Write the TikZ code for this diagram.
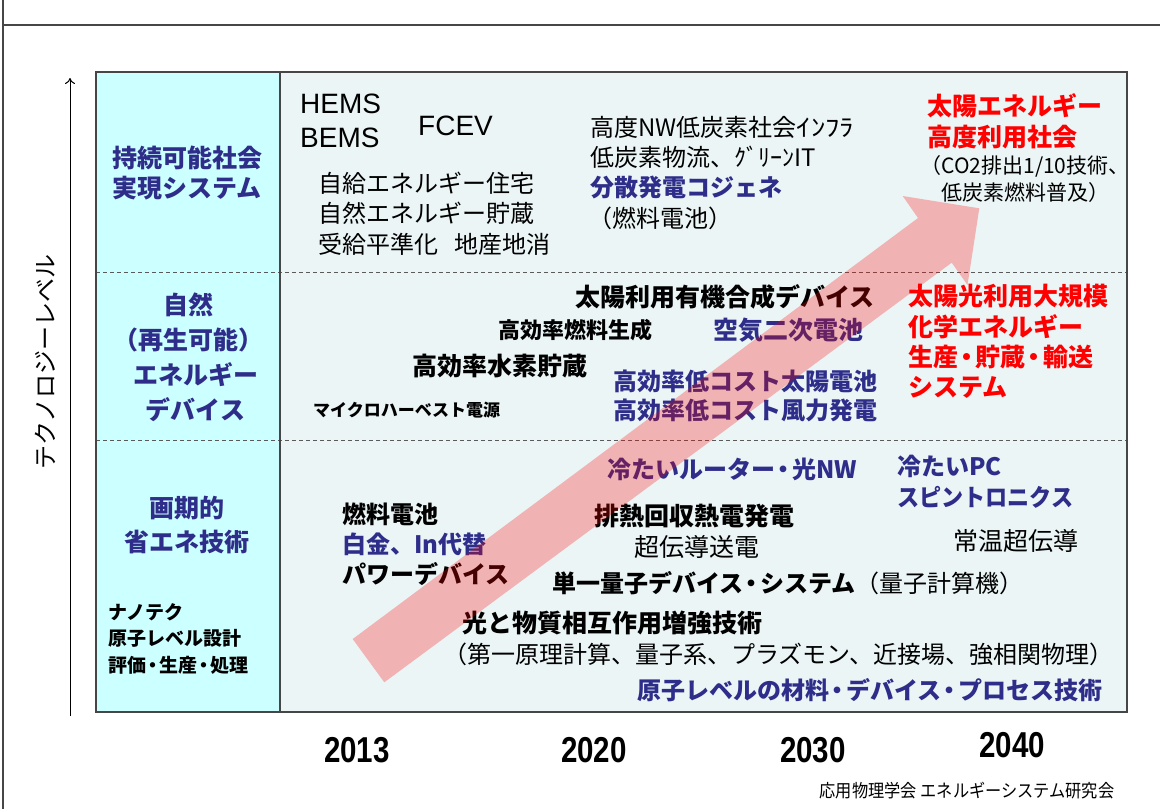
\documentclass[tikz,border=0pt]{standalone}
\usepackage{fontspec}
\usetikzlibrary{arrows.meta}
\setmainfont{Noto Sans CJK JP}
\newfontfamily\arialf{Liberation Sans}
\definecolor{jblue}{RGB}{46,46,138}
\definecolor{jred}{RGB}{255,0,0}
\definecolor{cyanbg}{RGB}{204,255,255}
\definecolor{mainbg}{RGB}{235,245,246}
\definecolor{framec}{RGB}{70,70,70}
\definecolor{dashc}{RGB}{90,90,90}
\newcommand{\nd}{\kern-0.15em・\kern-0.15em}
\begin{document}
\begin{tikzpicture}[x=1pt,y=-1pt,
  jt/.style={inner sep=0pt, anchor=west, align=left},
  jc/.style={inner sep=0pt, anchor=center, align=center},
  reg/.style 2 args={font=\fontsize{#1}{#2}\selectfont},
  bld/.style 2 args={font=\fontsize{#1}{#2}\selectfont\bfseries},
  lat/.style 2 args={font=\fontsize{#1}{#2}\selectfont\arialf},
  yr/.style={inner sep=0pt, anchor=center, font=\fontsize{36}{40}\selectfont\arialf\bfseries},
  blue/.style={text=jblue},
  red/.style={text=jred},
  framel/.style={draw=framec, line width=1.3pt},
  sep/.style={draw=dashc, line width=0.9pt, dash pattern=on 4pt off 3pt},
  bigarrow/.style={fill=red, fill opacity=0.27, draw=none}
]
\useasboundingbox (0,0) rectangle (1160,809);
\fill[white] (0,0) rectangle (1160,809);
% outer frame
\draw[framel] (3,0) -- (3,809);
\draw[framel] (3,25) -- (1160,25);
% table
\fill[mainbg] (280,72) rectangle (1127,712);
\fill[cyanbg] (96,72) rectangle (280,712);
\draw[sep] (96,272) -- (1127,272);
\draw[sep] (96,440) -- (1127,440);
\draw[framel] (96,72) rectangle (1127,712);
\draw[framel] (280,72) -- (280,712);
% axis
\coordinate (axb) at (70,716);
\coordinate (axt) at (70,78);
\draw[line width=1pt, -{To[length=6pt,width=10pt]}] (axb) -- (axt);
\node[jc, reg={24}{28}, rotate=90] (axlabel) at (45,362) {テクノロジーレベル};
% left column
\node[jc, bld={25}{30}, blue] (c1) at (187,173) {持続可能社会\\実現システム};
\node[jc, bld={25}{35}, blue] (c2) at (188,357.5) {自然\\（再生可能）\\\hspace{0.6em}エネルギー\\\hspace{0.6em}デバイス};
\node[jc, bld={25}{34}, blue] (c3) at (187,525) {画期的\\省エネ技術};
\node[jt, bld={19}{26.5}] (c4) at (108,638.5) {ナノテク\\原子レベル設計\\評価\nd 生産\nd 処理};
% top row
\node[jt, lat={28}{34}] (hems) at (300,121) {HEMS\\BEMS};
\node[jt, lat={28}{34}] (fcev) at (418,126) {FCEV};
\node[jt, reg={24}{30.5}] (jikyu) at (318,213.5) {自給エネルギー住宅\\自然エネルギー貯蔵\\受給平準化\hspace{0.7em}地産地消};
\node[jt, reg={24}{30}] (koudo) at (590,142) {高度NW低炭素社会\scalebox{1.2}[1]{ｲﾝﾌﾗ}\\低炭素物流、ｸﾞﾘｰﾝIT};
\node[jt, bld={24}{30}, blue] (bunsan) at (590,187) {分散発電コジェネ};
\node[jt, reg={24}{30}] (nenryo) at (588,218) {（燃料電池）};
\node[jt, bld={25}{31}, red] (goal1) at (927,121.5) {太陽エネルギー\\高度利用社会};
\node[jc, reg={21}{27}] (co2) at (1025,179.5) {（CO2排出1/10技術、\\低炭素燃料普及）};
% middle row
\node[jt, bld={25}{30}] (yuki) at (575,297) {太陽利用有機合成デバイス};
\node[jt, bld={22}{30}] (seisei) at (498,330) {高効率燃料生成};
\node[jt, bld={25}{30}, blue] (kuuki) at (713,330) {空気二次電池};
\node[jt, bld={25}{30}] (suiso) at (412,366) {高効率水素貯蔵};
\node[jt, bld={24}{29}, blue] (teicost) at (613,395.5) {高効率低コスト太陽電池\\高効率低コスト風力発電};
\node[jt, bld={17}{24}] (micro) at (313,410) {マイクロハーベスト電源};
\node[jt, bld={25}{30.3}, red] (goal2) at (908,341.5) {太陽光利用大規模\\化学エネルギー\\生産\nd 貯蔵\nd 輸送\\システム};
% bottom row
\node[jt, bld={24}{30}, blue] (router) at (607,469) {冷たいルーター\nd 光NW};
\node[jt, bld={24}{31}, blue] (pc) at (897,481.5) {冷たいPC\\\scalebox{0.92}[1]{スピントロニクス}};
\node[jt, bld={24}{30}] (fuel) at (342,544) {燃料電池\\\textcolor{jblue}{白金、In代替}\\パワーデバイス};
\node[jt, bld={25}{30}] (hainetsu) at (594,516) {排熱回収熱電発電};
\node[jc, reg={25}{30}] (chodendo) at (697,547) {超伝導送電};
\node[jt, reg={25}{30}] (jouon) at (953,541) {常温超伝導};
\node[jt, bld={24}{30}] (tanitsu) at (552,583) {単一量子デバイス\nd システム\mdseries（量子計算機）};
\node[jt, bld={25}{30}] (hikari) at (462,623) {光と物質相互作用増強技術};
\node[jt, reg={24}{30}] (daiichi) at (443,654) {（第一原理計算、量子系、プラズモン、近接場、強相関物理）};
\node[jt, bld={24}{30}, blue] (genshi) at (637,690) {原子レベルの材料\nd デバイス\nd プロセス技術};
% big arrow (over text, translucent)
\fill[bigarrow] (352.7,639) -- (918,218) -- (902.7,196) -- (979.3,208.3) -- (967.5,285) -- (951.7,262.7) -- (384.3,682.3) -- cycle;
% years
\node[yr] (y2013) at (357,750) {\scalebox{0.82}[1]{2013}};
\node[yr] (y2020) at (594,750) {\scalebox{0.82}[1]{2020}};
\node[yr] (y2030) at (813,750) {\scalebox{0.82}[1]{2030}};
\node[yr] (y2040) at (1012,745) {\scalebox{0.82}[1]{2040}};
\node[jc, reg={18}{22}] (credit) at (967,791) {\scalebox{0.9}[1]{応用物理学会 エネルギーシステム研究会}};
\end{tikzpicture}
\end{document}
